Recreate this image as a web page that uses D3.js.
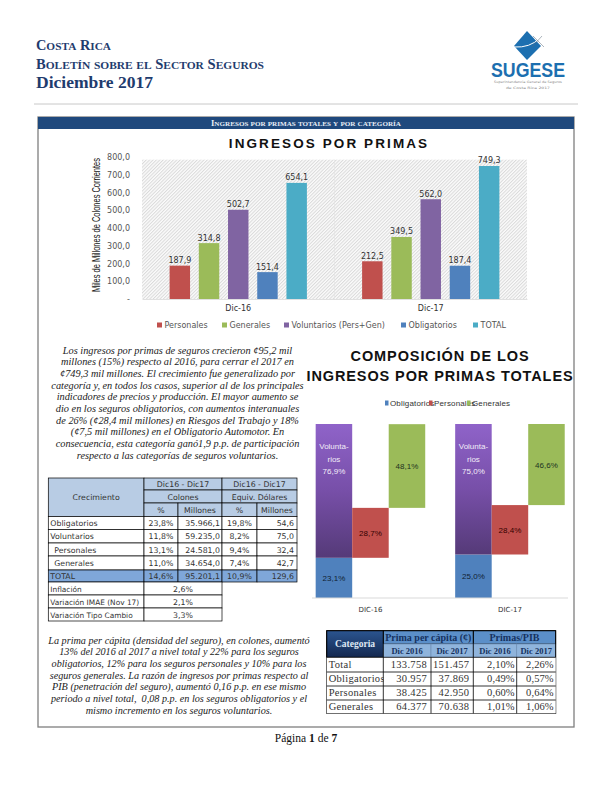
<!DOCTYPE html>
<html><head><meta charset="utf-8">
<script src="https://cdn.jsdelivr.net/npm/d3@7"></script>
<style>html,body{margin:0;padding:0;background:#fff}svg{display:block}</style>
</head><body><div id="chart"></div>
<script>
// ---------- data ----------
const periods = ["Dic-16","Dic-17"];
const primaSeries = ["Personales","Generales","Voluntarios (Pers+Gen)","Obligatorios","TOTAL"];
const primaDic16 = [187.9,314.8,502.7,151.4,654.1];
const primaDic17 = [212.5,349.5,562.0,187.4,749.3];
const primaTicks = [0,100,200,300,400,500,600,700,800];
const compPeriods = ["DIC-16","DIC-17"];
const compObligatorios = [23.1,25.0];
const compVoluntarios = [76.9,75.0];
const compPersonales = [28.7,28.4];
const compGenerales = [48.1,46.6];
const compLegend = ["Obligatorios","Personales","Generales"];
const paragraph1 = [
"Los ingresos por primas de seguros crecieron ¢95,2 mil",
"millones (15%) respecto al 2016, para cerrar el 2017 en",
"¢749,3 mil millones. El crecimiento fue generalizado por",
"categoría y, en todos los casos, superior al de los principales",
"indicadores de precios y producción. El mayor aumento se",
"dio en los seguros obligatorios, con aumentos interanuales",
"de 26% (¢28,4 mil millones) en Riesgos del Trabajo y 18%",
"(¢7,5 mil millones) en el Obligatorio Automotor. En",
"consecuencia, esta categoría ganó1,9 p.p. de participación",
"respecto a las categorías de seguros voluntarios."];
const paragraph2 = [
"La prima per cápita (densidad del seguro), en colones, aumentó",
"13% del 2016 al 2017 a nivel total y 22% para los seguros",
"obligatorios, 12% para los seguros personales y 10% para los",
"seguros generales. La razón de ingresos por primas respecto al",
"PIB (penetración del seguro), aumentó 0,16 p.p. en ese mismo",
"periodo a nivel total,  0,08 p.p. en los seguros obligatorios y el",
"mismo incremento en los seguros voluntarios."];
const growthNames = ["Obligatorios","Voluntarios","Personales","Generales","TOTAL"];
const growthColPct = ["23,8%","11,8%","13,1%","11,0%","14,6%"];
const growthColMil = ["35.966,1","59.235,0","24.581,0","34.654,0","95.201,1"];
const growthUsdPct = ["19,8%","8,2%","9,4%","7,4%","10,9%"];
const growthUsdMil = ["54,6","75,0","32,4","42,7","129,6"];
const indicatorNames = ["Inflación","Variación IMAE (Nov 17)","Variación Tipo Cambio"];
const indicatorValues = ["2,6%","2,1%","3,3%"];
const catNames = ["Total","Obligatorios","Personales","Generales"];
const perCapita2016 = ["133.758","30.957","38.425","64.377"];
const perCapita2017 = ["151.457","37.869","42.950","70.638"];
const pib2016 = ["2,10%","0,49%","0,60%","1,01%"];
const pib2017 = ["2,26%","0,57%","0,64%","1,06%"];

// ---------- helpers ----------
const SERIF="'Liberation Serif',serif", SANS="'DejaVu Sans',sans-serif", NARROW="'Liberation Sans Narrow','Liberation Sans',sans-serif";
const NAVY="#1f3c6e";
const svg=d3.select("#chart").append("svg").attr("width",612).attr("height",792);
const defs=svg.append("defs");
const hatch=defs.append("pattern").attr("id","hatch").attr("width",2.4).attr("height",2.4)
  .attr("patternUnits","userSpaceOnUse").attr("patternTransform","rotate(45)");
hatch.append("rect").attr("width",2.4).attr("height",2.4).attr("fill","#fbfbfb");
hatch.append("rect").attr("width",1).attr("height",2.4).attr("fill","#dadada");
const pg=defs.append("linearGradient").attr("id","purp").attr("x1",0).attr("x2",0).attr("y1",0).attr("y2",1);
pg.append("stop").attr("offset","0").attr("stop-color","#8f63c9");
pg.append("stop").attr("offset","0.5").attr("stop-color","#774fa8");
pg.append("stop").attr("offset","1").attr("stop-color","#553a78");
const ng=defs.append("linearGradient").attr("id","navy").attr("x1",0).attr("x2",0).attr("y1",0).attr("y2",1);
ng.append("stop").attr("offset","0").attr("stop-color","#2b5590");
ng.append("stop").attr("offset","1").attr("stop-color","#14284f");

function txt(p,x,y,s,o={}){
  const t=p.append("text").attr("x",x).attr("y",y).text(s)
   .attr("font-family",o.f||SERIF).attr("font-size",o.s||10).attr("fill",o.c||"#222")
   .attr("text-anchor",o.a||"start");
  if(o.b)t.attr("font-weight","bold");
  if(o.i)t.attr("font-style","italic");
  if(o.tl)t.attr("textLength",o.tl).attr("lengthAdjust","spacingAndGlyphs");
  if(o.ls)t.attr("letter-spacing",o.ls);
  t.style("white-space","pre");
  return t;
}
function smallCaps(p,x,y,parts,big,small,o={}){
  const t=p.append("text").attr("x",x).attr("y",y).attr("font-family",SERIF).attr("font-weight","bold")
    .attr("fill",o.c||NAVY).attr("text-anchor",o.a||"start");
  if(o.tl)t.attr("textLength",o.tl).attr("lengthAdjust","spacingAndGlyphs");
  parts.forEach(w=>{
    [...w].forEach(ch=>{
      const up=ch===ch.toUpperCase();
      t.append("tspan").attr("font-size",up?big:small).text(ch.toUpperCase());
    });
  });
  return t;
}

// ---------- page header ----------
const head=svg.append("g");
smallCaps(head,36,50,["Costa Rica"],14,11,{tl:75});
smallCaps(head,36,69,["Boletín sobre el Sector Seguros"],14,11,{tl:228});
txt(head,36,88,"Diciembre 2017",{s:17.5,b:1,c:NAVY,tl:117});
head.append("line").attr("x1",34).attr("x2",578).attr("y1",104).attr("y2",104).attr("stroke","#c8c8c8");

// logo
const logo=svg.append("g");
logo.append("path").attr("d",d3.line()([[527,31],[541,46],[527,60],[514,46]])+"Z").attr("fill","#1c6fb0");
logo.append("path").attr("d","M514 47 Q530 48 540 38").attr("fill","none").attr("stroke","#fff").attr("stroke-width",1);
logo.append("path").attr("d","M533 36 L544 47 M542 36 L532 47").attr("fill","none").attr("stroke","#5a6a7a").attr("stroke-width",.5);
txt(logo,528,77,"SUGESE",{f:"'Liberation Sans',sans-serif",s:19.5,b:1,c:"#1c6fb0",a:"middle",tl:74});
txt(logo,528,83,"Superintendencia General de Seguros",{f:SANS,s:3.2,c:"#8a8a8a",a:"middle",tl:68});
txt(logo,528,88.5,"de Costa Rica 2017",{f:SANS,s:3.2,c:"#8a8a8a",a:"middle",tl:44});

// ---------- frame ----------
svg.append("rect").attr("x",38).attr("y",117).attr("width",536).attr("height",610).attr("fill","none").attr("stroke","#7f7f7f").attr("stroke-width",1.3);
svg.append("rect").attr("x",38).attr("y",117).attr("width",536).attr("height",12).attr("fill","#1f497d");
smallCaps(svg,306,126,["Ingresos por primas totales y por categoría"],8,6.6,{c:"#e8edf5",a:"middle",tl:190});

// ---------- chart 1 ----------
const c1=svg.append("g");
txt(c1,329,148,"INGRESOS POR PRIMAS",{f:"'Liberation Sans',sans-serif",s:13.5,b:1,c:"#111",a:"middle",ls:2.1});
const x0=d3.scaleBand().domain(periods).range([142,527]);
const x1=d3.scaleBand().domain(primaSeries).range([0,x0.bandwidth()]).paddingInner(.3).paddingOuter(.945);
const y1=d3.scaleLinear().domain([0,800]).range([299,157]);
const serColor=d3.scaleOrdinal().domain(primaSeries).range(["#c0504d","#9bbb59","#8064a2","#4f81bd","#4bacc6"]);
c1.append("rect").attr("x",142).attr("y",y1(785)).attr("width",385).attr("height",y1(0)-y1(785)).attr("fill","url(#hatch)");
c1.append("line").attr("x1",x0("Dic-17")).attr("x2",x0("Dic-17")).attr("y1",y1(785)).attr("y2",y1(0)).attr("stroke","#e4e4e4").attr("stroke-width",.7);
const yA=c1.append("g").attr("transform","translate(130,0)").call(d3.axisLeft(y1).tickValues(primaTicks).tickSize(0).tickPadding(0)
   .tickFormat(d=>d===0?"-":d3.format(".1f")(d).replace(".",",")));
yA.select(".domain").remove();
yA.selectAll("text").attr("font-family",SANS).attr("font-size",8).attr("fill","#555");
const primaAll=[primaDic16,primaDic17];
periods.forEach((p,pi)=>{
  const g=c1.append("g").attr("transform",`translate(${x0(p)},0)`);
  g.selectAll("rect").data(primaAll[pi]).join("rect")
    .attr("x",(d,i)=>x1(primaSeries[i])).attr("width",x1.bandwidth())
    .attr("y",d=>y1(d)).attr("height",d=>y1(0)-y1(d)).attr("fill",(d,i)=>serColor(primaSeries[i]));
  g.selectAll("text").data(primaAll[pi]).join("text")
    .attr("x",(d,i)=>x1(primaSeries[i])+x1.bandwidth()/2).attr("y",d=>y1(d)-2.5)
    .attr("text-anchor","middle").attr("font-family",SANS).attr("font-size",8).attr("fill","#333")
    .text(d=>d3.format(".1f")(d).replace(".",","));
});
const xA=c1.append("g").attr("transform","translate(0,299)").call(d3.axisBottom(x0).tickSize(0).tickPadding(6));
xA.select(".domain").attr("stroke","#e0e0e0");
xA.selectAll("text").attr("font-family",SANS).attr("font-size",8).attr("fill","#333");
c1.append("text").attr("transform","translate(99.5,225) rotate(-90)").attr("text-anchor","middle")
  .attr("font-family",NARROW).attr("font-size",10).attr("fill","#111")
  .attr("textLength",134).attr("lengthAdjust","spacingAndGlyphs").text("Miles de Millones de Colones Corrientes");
const leg1X=d3.scaleOrdinal().domain(primaSeries).range([157,222,284,401,473]);
primaSeries.forEach(s=>{
  c1.append("rect").attr("x",leg1X(s)).attr("y",322.5).attr("width",5).attr("height",5).attr("fill",serColor(s));
  txt(c1,leg1X(s)+7.5,328,s,{f:SANS,s:8,c:"#555"});
});

// ---------- paragraphs ----------
const lineY1=d3.scaleLinear().domain([0,9]).range([353.5,458.5]);
paragraph1.forEach((l,i)=>txt(svg,177.5,lineY1(i),l,{s:10.3,i:1,a:"middle"}));
const lineY2=d3.scaleLinear().domain([0,6]).range([643.5,713.5]);
paragraph2.forEach((l,i)=>txt(svg,179,lineY2(i),l,{s:10.2,i:1,a:"middle"}));

// ---------- chart 2 ----------
const c2=svg.append("g");
txt(c2,440,361,"COMPOSICIÓN DE LOS",{f:NARROW,s:14.5,b:1,c:"#111",a:"middle",ls:.9});
txt(c2,440,381,"INGRESOS POR PRIMAS TOTALES",{f:NARROW,s:14.5,b:1,c:"#111",a:"middle",ls:.9});
const gx=d3.scaleBand().domain(compPeriods).range([300.7,579.7]);
const sx=d3.scaleBand().domain([0,1,2]).range([0,gx.bandwidth()]).paddingOuter(.41);
const y2=d3.scaleLinear().domain([0,100]).range([598,424]);
const comp={ob:"#4f81bd",vo:"url(#purp)",pe:"#c0504d",ge:"#9bbb59"};
compPeriods.forEach((p,i)=>{
  const g=c2.append("g").attr("transform",`translate(${gx(p)},0)`);
  const ob=compObligatorios[i],vo=compVoluntarios[i],pe=compPersonales[i],ge=compGenerales[i];
  const segs=[
    {col:0,lo:0,hi:ob,fill:comp.ob,label:d3.format(".1f")(ob).replace(".",",")+"%",c:"#123"},
    {col:0,lo:ob,hi:ob+vo,fill:comp.vo,label:null},
    {col:1,lo:ob,hi:ob+pe,fill:comp.pe,label:d3.format(".1f")(pe).replace(".",",")+"%",c:"#300"},
    {col:2,lo:ob+pe,hi:ob+pe+ge,fill:comp.ge,label:d3.format(".1f")(ge).replace(".",",")+"%",c:"#232"}];
  segs.forEach(s=>{
    g.append("rect").attr("x",sx(s.col)).attr("width",sx.bandwidth()).attr("y",y2(s.hi)).attr("height",y2(s.lo)-y2(s.hi)).attr("fill",s.fill);
    if(s.label)txt(g,sx(s.col)+sx.bandwidth()/2,(y2(s.hi)+y2(s.lo))/2+3,s.label,{f:NARROW,s:8,c:s.c,a:"middle"});
  });
  const vx=sx(0)+sx.bandwidth()/2;
  const volLab=["Volunta-","rios",d3.format(".1f")(vo).replace(".",",")+"%"];
  volLab.forEach((l,k)=>txt(g,vx,449+k*12.5,l,{f:NARROW,s:8,c:"#f2ecf8",a:"middle"}));
});
const xB=c2.append("g").attr("transform","translate(0,598)").call(d3.axisBottom(gx).tickSize(0).tickPadding(9));
xB.select(".domain").attr("d","M312,0H568").attr("stroke","#d9d9d9");
xB.selectAll("text").attr("font-family",SANS).attr("font-size",7).attr("fill","#333");
const leg2X=d3.scaleOrdinal().domain(compLegend).range([385,429,467]);
const leg2C=d3.scaleOrdinal().domain(compLegend).range(["#4f81bd","#c0504d","#9bbb59"]);
compLegend.forEach(s=>{
  c2.append("rect").attr("x",leg2X(s)).attr("y",400.5).attr("width",3.5).attr("height",5).attr("fill",leg2C(s));
  txt(c2,leg2X(s)+5,406,s,{f:NARROW,s:8,c:"#333",ls:.15});
});

// ---------- table helper ----------
function cell(p,x0,x1,y0,y1,s,o={}){
  p.append("rect").attr("x",x0).attr("y",y0).attr("width",x1-x0).attr("height",y1-y0)
   .attr("fill",o.bg||"#fff").attr("stroke",o.st||"#000").attr("stroke-width",o.sw||.7);
  const a=o.a||"middle";
  const tx=a==="middle"?(x0+x1)/2:a==="end"?x1-(o.pad||2):x0+(o.pad||2);
  txt(p,tx,(y0+y1)/2+(o.dy||3),s,{f:o.f||SANS,s:o.s||7.8,c:o.c||"#333",a:a,b:o.b,ls:o.ls});
}

// ---------- table 1 ----------
const t1=svg.append("g");
const HB="#b8cce4",TB="#7fa7d9";
const cx=[48.3,144,178,222,257,297], ry=[478,490,503,516.5,529.5,543,556,570,582,595,608,621];
const tc1=(a,b,c,d,s,o)=>cell(t1,cx[a],cx[b],ry[c],ry[d],s,Object.assign({bg:HB},o||{}));
tc1(0,1,0,3,"Crecimiento");
tc1(1,3,0,1,"Dic16 - Dic17"); tc1(3,5,0,1,"Dic16 - Dic17");
tc1(1,3,1,2,"Colones"); tc1(3,5,1,2,"Equiv. Dólares");
tc1(1,2,2,3,"%"); tc1(2,3,2,3,"Millones"); tc1(3,4,2,3,"%"); tc1(4,5,2,3,"Millones");
growthNames.forEach((n,i)=>{
  const bg=n==="TOTAL"?TB:"#fff", r=i+3;
  cell(t1,cx[0],cx[1],ry[r],ry[r+1],n,{a:"start",pad:(i===2||i===3)?6:2,bg});
  cell(t1,cx[1],cx[2],ry[r],ry[r+1],growthColPct[i],{bg});
  cell(t1,cx[2],cx[3],ry[r],ry[r+1],growthColMil[i],{a:"end",bg});
  cell(t1,cx[3],cx[4],ry[r],ry[r+1],growthUsdPct[i],{bg});
  cell(t1,cx[4],cx[5],ry[r],ry[r+1],growthUsdMil[i],{a:"end",pad:3,bg});
});
indicatorNames.forEach((n,i)=>{
  const r=i+8;
  cell(t1,cx[0],cx[1],ry[r],ry[r+1],n,{a:"start",s:7.4});
  cell(t1,cx[1],cx[3],ry[r],ry[r+1],indicatorValues[i]);
});

// ---------- table 2 ----------
const t2=svg.append("g");
const qx=[326.7,383.3,431,473.3,516.7,555.7], qy=[630.7,644,657.3,672,686,700,713.3];
const SER={f:SERIF,dy:3.2};
const H1="#5b8fc9",H2="#8fb4dc",HT="#16325f";
cell(t2,qx[0],qx[1],qy[0],qy[2],"Categoria",{...SER,s:9.5,bg:"url(#navy)",c:"#dfe8f4",b:1});
cell(t2,qx[1],qx[3],qy[0],qy[1],"Prima per cápita (¢)",{...SER,s:10,bg:H1,c:HT,b:1});
cell(t2,qx[3],qx[5],qy[0],qy[1],"Primas/PIB",{...SER,s:10,bg:H1,c:HT,b:1});
["Dic 2016","Dic 2017","Dic 2016","Dic 2017"].forEach((s,i)=>cell(t2,qx[i+1],qx[i+2],qy[1],qy[2],s,{...SER,s:8.5,bg:H2,c:HT,b:1,st:"#6f8fb5"}));
t2.append("rect").attr("x",qx[0]).attr("y",qy[0]).attr("width",qx[5]-qx[0]).attr("height",qy[6]-qy[0]).attr("fill","none").attr("stroke","#000").attr("stroke-width",1);
catNames.forEach((n,i)=>{
  const r=i+2, o={...SER,s:10.5,a:"end",pad:2,st:"none",ls:.3};
  cell(t2,qx[0],qx[1],qy[r],qy[r+1],n,{...o,a:"start"});
  cell(t2,qx[1],qx[2],qy[r],qy[r+1],perCapita2016[i],{...o,pad:4});
  cell(t2,qx[2],qx[3],qy[r],qy[r+1],perCapita2017[i],{...o,pad:4});
  cell(t2,qx[3],qx[4],qy[r],qy[r+1],pib2016[i],{...o,ls:.1});
  cell(t2,qx[4],qx[5],qy[r],qy[r+1],pib2017[i],{...o,ls:.1});
});
qy.slice(2,6).forEach(y=>t2.append("line").attr("x1",qx[0]).attr("x2",qx[5]).attr("y1",y).attr("y2",y).attr("stroke","#000").attr("stroke-width",.8));
qx.slice(1,5).forEach(x=>t2.append("line").attr("x1",x).attr("x2",x).attr("y1",qy[2]).attr("y2",qy[6]).attr("stroke","#000").attr("stroke-width",.8));
[qx[1],qx[3]].forEach(x=>t2.append("line").attr("x1",x).attr("x2",x).attr("y1",qy[0]).attr("y2",qy[2]).attr("stroke","#000").attr("stroke-width",.8));

// ---------- footer ----------
const ft=svg.append("text").attr("x",306).attr("y",741.5).attr("text-anchor","middle").attr("font-family",SERIF).attr("font-size",11.5).attr("fill","#111");
ft.append("tspan").text("Página ");
ft.append("tspan").attr("font-weight","bold").text("1");
ft.append("tspan").text(" de ");
ft.append("tspan").attr("font-weight","bold").text("7");
</script></body></html>
